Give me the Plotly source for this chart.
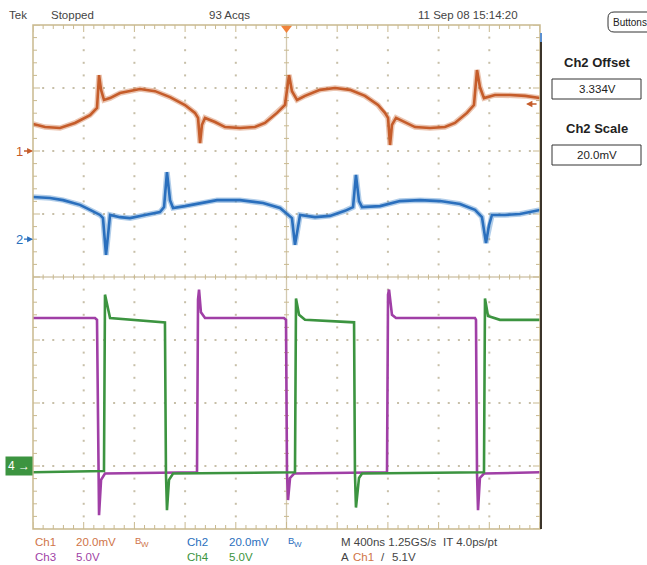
import plotly.graph_objects as go

# ---- acquisition settings -------------------------------------------------
T_DIV = 400.0                       # ns per horizontal division (10 div)
CH1_SCALE, CH1_POS = 20.0, 2.0      # mV/div, ground marker position (div)
CH2_SCALE, CH2_POS = 20.0, 0.6      # mV/div (relative to 3.334 V offset)
CH3_SCALE, CH3_POS = 5.0, -3.0      # V/div
CH4_SCALE, CH4_POS = 5.0, -3.0      # V/div

# ---- waveform samples (time in ns, trigger at 0) --------------------------
ch1_t = [-2000, -1905, -1787, -1669, -1550, -1495, -1479, -1463, -1440, -1392,
         -1314, -1156, -1037, -919, -801, -722, -698, -682, -667, -643,
         -564, -485, -367, -249, -170, -75, -12, 20, 43, 83,
         146, 264, 383, 501, 619, 722, 777, 801, 817, 832,
         864, 935, 1014, 1132, 1250, 1329, 1424, 1479, 1503, 1526,
         1558, 1645, 1763, 1882, 2000]
ch1_mv = [8.6, 7.6, 7.3, 8.9, 11.4, 13.7, 24.1, 19.4, 16.2, 16.8,
          18.4, 19.7, 19.0, 17.1, 14.6, 12.1, 10.5, 2.5, 8.3, 10.5,
          9.2, 7.6, 7.3, 7.6, 8.9, 12.1, 14.6, 24.1, 19.0, 16.2,
          17.5, 19.4, 20.0, 19.4, 17.5, 14.6, 12.1, 10.5, 1.9, 8.3,
          10.5, 9.2, 7.6, 7.3, 7.6, 8.9, 12.1, 14.6, 25.7, 20.3,
          16.8, 17.8, 17.8, 17.5, 16.8]

ch2_t = [-2000, -1866, -1763, -1629, -1550, -1471, -1448, -1424, -1408, -1392,
         -1314, -1235, -1116, -998, -966, -943, -919, -895, -801, -682,
         -548, -367, -185, -51, 12, 43, 67, 91, 107, 225,
         343, 461, 525, 548, 572, 596, 738, 895, 1053, 1211,
         1369, 1487, 1542, 1574, 1598, 1621, 1724, 1842, 2000]
ch2_mv = [13.4, 13.1, 12.4, 10.9, 9.3, 7.7, 6.7, -5.0, 1.3, 7.7,
          7.0, 6.7, 7.7, 8.6, 10.2, 21.3, 12.4, 9.9, 10.5, 11.5,
          12.4, 12.4, 11.5, 9.9, 7.7, 6.7, -1.8, 3.6, 7.7, 7.0,
          7.4, 9.0, 10.2, 20.4, 12.1, 10.2, 10.5, 12.1, 12.4, 12.1,
          11.2, 9.3, 7.0, -1.2, 4.5, 7.7, 7.7, 8.0, 9.3]

ch3_t = [-2000, -1511, -1495, -1487, -1479, -1463, -1432, -706, -698, -690,
         -675, -643, -20, -4, 4, 12, 28, 60, 793, 801,
         809, 832, 864, 1487, 1495, 1503, 1511, 1526, 1558, 2000]
ch3_v = [11.75, 11.75, 11.6, -0.6, -3.9, -1.1, -0.6, -0.5, 13.2, 14.0,
         12.2, 11.75, 11.75, 11.6, -0.6, -2.7, -0.95, -0.6, -0.5, 13.6,
         14.0, 12.0, 11.75, 11.75, 11.6, -0.6, -3.5, -0.95, -0.6, -0.5]

ch4_t = [-2000, -1440, -1432, -1416, -1392, -959, -951, -943, -927, -895,
         67, 75, 99, 146, 533, 540, 548, 572, 596, 1558,
         1566, 1590, 1684, 2000]
ch4_v = [-0.5, -0.4, 13.6, 12.8, 11.75, 11.4, -0.6, -3.5, -1.1, -0.6,
         -0.5, 13.3, 12.0, 11.6, 11.4, -0.6, -3.3, -0.95, -0.6, -0.5,
         13.3, 11.9, 11.6, 11.6]

# ---- colours / fonts ------------------------------------------------------
C1, C1_TXT = "#c55c2a", "#cf7448"
C2 = "#2a6fbd"
C3 = "#a03fa6"
C4 = "#3c9440"
GRAT = "#c9b98f"
DOT = "#c7bfa8"
GRAY = "#444444"
FONT = "Liberation Sans, Arial, sans-serif"

W, H = 647, 565
L, R, T, B = 33, 540, 25, 529            # graticule edges in page pixels
PX = 10 * T_DIV / (R - L)                # ns per pixel
PY = 8.0 / (B - T)                       # div per pixel


def to_div(values, scale, pos):
    return [v / scale + pos for v in values]


fig = go.Figure()

# ---- graticule: dotted division lines -------------------------------------
dx, dy = [], []
for k in (-4, -3, -2, -1, 1, 2, 3, 4):
    xm = k * T_DIV
    for j in range(1, 40):
        dx.append(xm)
        dy.append(-4 + 0.2 * j)
for ym in (-3, -2, -1, 1, 2, 3):
    for i in range(1, 50):
        dx.append(-2000 + 80 * i)
        dy.append(ym)
fig.add_trace(go.Scatter(x=dx, y=dy, mode="markers", hoverinfo="skip",
                         marker=dict(symbol="square", size=2, color=DOT,
                                     line=dict(width=0))))

# centre crosshair
fig.add_trace(go.Scatter(x=[-2000, 2000, None, 0, 0], y=[0, 0, None, -4, 4],
                         mode="lines", hoverinfo="skip",
                         line=dict(color="#d3c9b0", width=1.3)))

# edge and centre ticks
tx, ty = [], []


def seg(x0, y0, x1, y1):
    tx.extend([x0, x1, None])
    ty.extend([y0, y1, None])


for i in range(51):
    x = -2000 + 80 * i
    ln = 7 if i % 5 == 0 else 4
    seg(x, 4, x, 4 - ln * PY)
    seg(x, -4, x, -4 + ln * PY)
    seg(x, -2.5 * PY, x, 2.5 * PY)
for j in range(41):
    y = -4 + 0.2 * j
    ln = 7 if j % 5 == 0 else 4
    seg(-2000, y, -2000 + ln * PX, y)
    seg(2000, y, 2000 - ln * PX, y)
    seg(-2.5 * PX, y, 2.5 * PX, y)
fig.add_trace(go.Scatter(x=tx, y=ty, mode="lines", hoverinfo="skip",
                         line=dict(color=GRAT, width=1)))

# ---- waveforms ------------------------------------------------------------
y1 = to_div(ch1_mv, CH1_SCALE, CH1_POS)
y2 = to_div(ch2_mv, CH2_SCALE, CH2_POS)
y3 = to_div(ch3_v, CH3_SCALE, CH3_POS)
y4 = to_div(ch4_v, CH4_SCALE, CH4_POS)

for t, y, col, halo in ((ch1_t, y1, C1, "rgba(205,110,60,0.40)"),
                        (ch2_t, y2, C2, "rgba(60,130,200,0.40)")):
    fig.add_trace(go.Scatter(x=t, y=y, mode="lines", hoverinfo="skip",
                             line=dict(color=halo, width=5.5)))
    fig.add_trace(go.Scatter(x=t, y=y, mode="lines", hoverinfo="skip",
                             line=dict(color=col, width=2.6)))

fig.add_trace(go.Scatter(x=ch3_t, y=y3, mode="lines", hoverinfo="skip",
                         line=dict(color=C3, width=2.6)))
fig.add_trace(go.Scatter(x=ch4_t, y=y4, mode="lines", hoverinfo="skip",
                         line=dict(color=C4, width=2.6)))

# trigger position marker
fig.add_trace(go.Scatter(x=[0], y=[4 - 3 * PY], mode="markers", hoverinfo="skip",
                         cliponaxis=False,
                         marker=dict(symbol="triangle-down", size=10,
                                     color="#f0823a", line=dict(width=0))))

# ---- annotations ----------------------------------------------------------
ann = []


def text(xp, yp, s, color=GRAY, size=11.5, anchor="left", bold=False):
    ann.append(dict(xref="paper", yref="paper",
                    x=(xp - L) / (R - L), y=(B - yp) / (B - T),
                    text=f"<b>{s}</b>" if bold else s, showarrow=False,
                    xanchor=anchor, yanchor="middle",
                    font=dict(family=FONT, size=size, color=color)))


# status line
text(7, 15, "Tek")
text(49, 15, "Stopped")
text(207, 15, "93 Acqs")
text(416, 15, "11 Sep 08 15:14:20")

# channel readouts
text(33, 542, "Ch1", C1_TXT)
text(74, 542, "20.0mV", C1_TXT)
text(133, 540, "B", C1_TXT, size=9.5)
text(139, 544, "W", C1_TXT, size=8)
text(185, 542, "Ch2", C2)
text(227, 542, "20.0mV", C2)
text(286, 540, "B", C2, size=9.5)
text(292, 544, "W", C2, size=8)
text(339, 542, "M 400ns 1.25GS/s")
text(441, 542, "IT 4.0ps/pt")
text(33, 557, "Ch3", C3)
text(74, 557, "5.0V", C3)
text(185, 557, "Ch4", C4)
text(227, 557, "5.0V", C4)
text(339, 557, "A")
text(351, 557, "Ch1", C1_TXT)
text(379, 557, "/")
text(390, 557, "5.1V")

# side menu
text(597, 63, "Ch2 Offset", "#222222", size=13, anchor="center", bold=True)
text(597, 89, "3.334V", "#222222", size=11.5, anchor="center")
text(597, 128, "Ch2 Scale", "#222222", size=13, anchor="center", bold=True)
text(597, 155, "20.0mV", "#222222", size=11.5, anchor="center")
text(611, 22, "Buttons", "#222222", size=10)

# trigger level arrow on the right edge
ann.append(dict(x=1890, y=(277 - 104) / 63.0, xref="x", yref="y", text="",
                showarrow=True, ax=12, ay=0, arrowcolor=C1, arrowhead=2,
                arrowsize=0.9, arrowwidth=1.4, standoff=0))

# ground reference markers
for lab, pos, col in (("1", CH1_POS, C1), ("2", CH2_POS, C2)):
    ann.append(dict(x=-2000, y=pos, xref="x", yref="y", text=lab,
                    showarrow=True, ax=-14, ay=0, arrowcolor=col,
                    arrowhead=2, arrowsize=0.9, arrowwidth=1.3, standoff=0,
                    font=dict(family=FONT, size=13, color=col)))
ann.append(dict(x=0, y=CH4_POS, xref="paper", yref="y", text="4 →",
                showarrow=False, xanchor="right", yanchor="middle",
                bgcolor=C4, borderpad=2,
                font=dict(family=FONT, size=12, color="white")))


def pxx(x):
    return (x - L) / (R - L)


def pxy(y):
    return (B - y) / (B - T)


shapes = [
    dict(type="rect", xref="paper", yref="paper", x0=0, x1=1, y0=0, y1=1,
         line=dict(color=GRAT, width=1.5)),
    dict(type="line", xref="paper", yref="paper", x0=pxx(541), x1=pxx(541),
         y0=pxy(529), y1=pxy(34), line=dict(color="#3b342a", width=2)),
    dict(type="line", xref="paper", yref="paper", x0=pxx(541), x1=pxx(541),
         y0=pxy(42), y1=pxy(33), line=dict(color="#5b90d0", width=2)),
    dict(type="rect", xref="paper", yref="paper", x0=pxx(552), x1=pxx(641),
         y0=pxy(99), y1=pxy(79), line=dict(color="#333333", width=1)),
    dict(type="rect", xref="paper", yref="paper", x0=pxx(552), x1=pxx(641),
         y0=pxy(165), y1=pxy(145), line=dict(color="#333333", width=1)),
]
# rounded tab of the "Buttons" control
bx0, bx1, by0, by1, rr = 608, 660, 12, 32, 6
path = (f"M {pxx(bx1)},{pxy(by0)} L {pxx(bx0 + rr)},{pxy(by0)} "
        f"Q {pxx(bx0)},{pxy(by0)} {pxx(bx0)},{pxy(by0 + rr)} "
        f"L {pxx(bx0)},{pxy(by1 - rr)} "
        f"Q {pxx(bx0)},{pxy(by1)} {pxx(bx0 + rr)},{pxy(by1)} "
        f"L {pxx(bx1)},{pxy(by1)}")
shapes.append(dict(type="path", xref="paper", yref="paper", path=path,
                   line=dict(color="#333333", width=1)))

fig.update_layout(
    width=W, height=H,
    margin=dict(l=L, r=W - R, t=T, b=H - B, pad=0),
    paper_bgcolor="white", plot_bgcolor="white",
    showlegend=False,
    xaxis=dict(range=[-2000, 2000], visible=False, fixedrange=True),
    yaxis=dict(range=[-4, 4], visible=False, fixedrange=True),
    annotations=ann, shapes=shapes,
)

fig.write_html("out.html")
